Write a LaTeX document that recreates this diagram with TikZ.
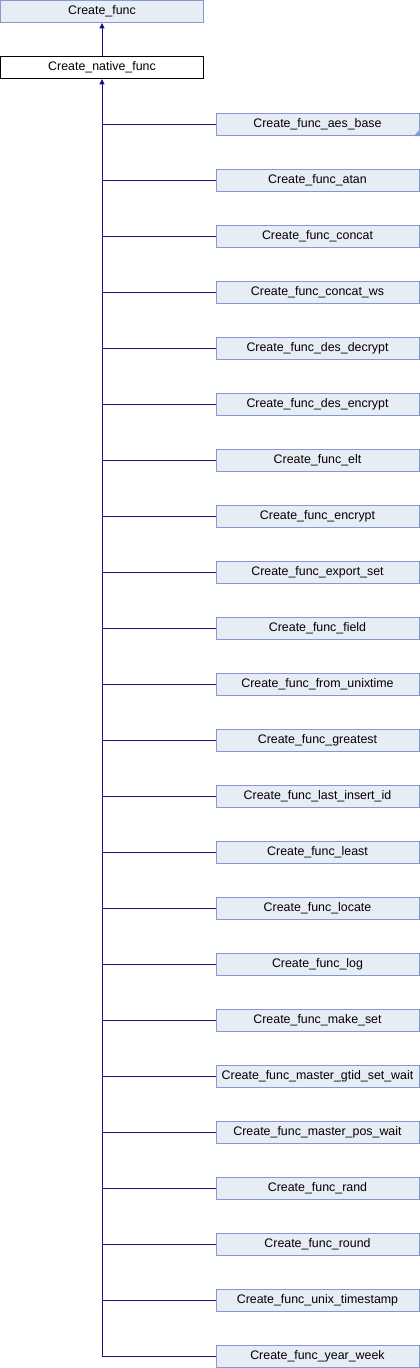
\documentclass[tikz,border=0pt]{standalone}
\usepackage{fontspec}
\setmainfont{Liberation Sans}
\usepackage{xcolor}
\usepackage{tikz}
\usetikzlibrary{arrows.meta,positioning}
\definecolor{dgFill}{RGB}{232,236,245}
\definecolor{dgBorder}{RGB}{132,154,204}
\definecolor{dgLine}{RGB}{18,18,140}

\begin{document}
\begin{tikzpicture}[x=0.75pt,y=-0.75pt,
  cls/.style={draw=dgBorder, fill=dgFill, line width=0.75pt, minimum width=152.25pt,
    minimum height=16.5pt, inner sep=0pt, font=\fontsize{9.3pt}{11pt}\selectfont},
  curcls/.style={cls, draw=black, fill=white},
  link/.style={dgLine, line width=0.75pt},
  inh/.style={link, -{Triangle[length=4pt,width=3.6pt]}}]
\useasboundingbox (0,0) rectangle (420,1368);
\node[cls] (base) at (102,11.5) {Create\_func};
\node[curcls] (nat) at (102,67.5) {Create\_native\_func};
\draw[inh] (nat.north) -- (base.south);
\foreach \nm [count=\i] in {aes\_base,atan,concat,concat\_ws,des\_decrypt,des\_encrypt,elt,
  encrypt,export\_set,field,from\_unixtime,greatest,last\_insert\_id,least,locate,log,
  make\_set,master\_gtid\_set\_wait,master\_pos\_wait,rand,round,unix\_timestamp,year\_week}
{
  \node[cls] (c\i) at (317.5,{124.5+56*(\i-1)}) {Create\_func\_\nm};
  \draw[link] (c\i.west) -- (c\i.west -| nat.south);
}
\draw[inh] (c23.west -| nat.south) -- (nat.south);
\fill[dgBorder] (c1.south east) -- ++(-6,0) -- ++(6,-6) -- cycle;
\end{tikzpicture}
\end{document}
